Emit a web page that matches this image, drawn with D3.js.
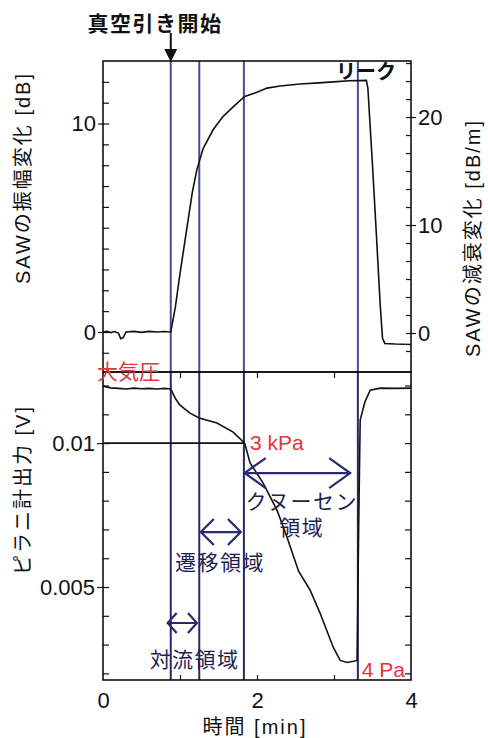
<!DOCTYPE html>
<html>
<head>
<meta charset="utf-8">
<title>SAW and Pirani gauge during pump-down</title>
<style>
  body { margin: 0; background: #fff; }
  text { font-family: "Liberation Sans", "Noto Sans CJK JP", sans-serif; fill: #111; }
  .frame { fill: none; stroke: #111; stroke-width: 1.6px; }
  .tick line { stroke: #111; stroke-width: 1.2px; }
  .tlabel text, .tlabel { font-size: 22px; }
  .title { font-size: 20px; letter-spacing: 2px; }
  .stage-top { stroke: #4a4a98; stroke-width: 2px; }
  .stage-bot { stroke: #28286a; stroke-width: 2px; }
  .curve { fill: none; stroke: #111; stroke-width: 1.6px; }
  .red { fill: #e3343c; }
  .region { font-size: 21px; letter-spacing: 1.5px; fill: #1f1f52; }
  .dbl { fill: none; stroke: #2a2a6e; stroke-width: 2.2px; }
</style>
</head>
<body>
<svg width="488" height="738"></svg>
<script src="https://d3js.org/d3.v7.min.js"></script>
<script>
// time axis [min]
const timeTicks = [0, 2, 4];
const timeMinor = [1, 2, 3];

// SAW amplitude change [dB], top panel
const sawTime = [0, 0.05, 0.1, 0.15, 0.2, 0.23, 0.26, 0.3, 0.4, 0.5, 0.6, 0.7, 0.8, 0.88,
  0.94, 1.0, 1.09, 1.16, 1.22, 1.3, 1.43, 1.55, 1.69, 1.84, 2.0, 2.13, 2.3, 2.56, 2.8, 2.99,
  3.2, 3.42, 3.44, 3.5, 3.55, 3.6, 3.63, 3.66, 3.8, 4.0];
const sawDb = [0, 0.03, -0.03, 0.02, -0.05, -0.32, -0.28, 0, 0.03, -0.02, 0.03, 0, 0.02, 0,
  1.2, 2.8, 5.0, 6.7, 7.8, 8.8, 9.7, 10.3, 10.8, 11.3, 11.5, 11.7, 11.8, 11.9, 11.95, 12.0,
  12.05, 12.07, 11.7, 8.0, 4.7, 1.3, -0.3, -0.55, -0.58, -0.6];

// Pirani gauge output [V], bottom panel
const piraniTime = [0, 0.1, 0.2, 0.3, 0.4, 0.5, 0.6, 0.7, 0.8, 0.88, 0.9, 0.94, 1.0, 1.13,
  1.25, 1.48, 1.69, 1.84, 1.91, 2.08, 2.26, 2.39, 2.54, 2.69, 2.82, 2.99, 3.08, 3.17, 3.27,
  3.30, 3.32, 3.34, 3.40, 3.47, 3.6, 3.8, 4.0];
const piraniV = [0.01198, 0.01192, 0.01190, 0.01188, 0.01191, 0.01189, 0.01190, 0.01188,
  0.01190, 0.01188, 0.01177, 0.01155, 0.01132, 0.01104, 0.01087, 0.0107, 0.01038, 0.0100,
  0.00931, 0.00861, 0.00767, 0.00673, 0.00555, 0.00489, 0.00409, 0.00291, 0.00245, 0.00238,
  0.00243, 0.00245, 0.0070, 0.0108, 0.01142, 0.01184, 0.01191, 0.01190, 0.01191];

// boundaries between flow regimes [min]
const stageTimes = [0.88, 1.25, 1.83, 3.31];

const L = 103, R = 411, T = 61, MID = 372, B = 680;
const svg = d3.select("svg");

const x = d3.scaleLinear().domain([0, 4]).range([L, R]);
const yTop = d3.scaleLinear().domain([-1.92, 13.0]).range([MID, T]);
const yRight = d3.scaleLinear().domain([-3.61, 25.19]).range([MID, T]);
const yBot = d3.scaleLinear().domain([0.00177, 0.01247]).range([B, MID]);

const noDomain = g => g.select(".domain").remove();

// stage lines
svg.selectAll(".stage-top").data(stageTimes).enter().append("line")
  .attr("class", "stage-top")
  .attr("x1", d => x(d)).attr("x2", d => x(d)).attr("y1", T).attr("y2", MID);
svg.selectAll(".stage-bot").data(stageTimes).enter().append("line")
  .attr("class", "stage-bot")
  .attr("x1", d => x(d)).attr("x2", d => x(d)).attr("y1", MID).attr("y2", B);

// 3 kPa reference line
svg.append("line").attr("stroke", "#111").attr("stroke-width", 1.6)
  .attr("x1", x(0)).attr("x2", x(stageTimes[2])).attr("y1", yBot(0.01)).attr("y2", yBot(0.01));

// curves
const sawLine = d3.line().x((d, i) => x(sawTime[i])).y(d => yTop(d));
svg.append("path").attr("class", "curve").attr("d", sawLine(sawDb));
const pirLine = d3.line().x((d, i) => x(piraniTime[i])).y(d => yBot(d));
svg.append("path").attr("class", "curve").attr("stroke-width", 1.3).attr("d", pirLine(piraniV));

// axes: left top
svg.append("g").attr("class", "tick").attr("transform", `translate(${L},0)`)
  .call(d3.axisRight(yTop).tickValues(d3.range(-1, 13)).tickSize(6).tickFormat(""))
  .call(noDomain);
svg.append("g").attr("class", "tick tlabel").attr("transform", `translate(${L},0)`)
  .call(d3.axisLeft(yTop).tickValues([0, 10]).tickSize(5).tickPadding(2))
  .call(noDomain);
// right top
svg.append("g").attr("class", "tick").attr("transform", `translate(${R},0)`)
  .call(d3.axisLeft(yRight).tickValues(d3.range(-10 / 6, 25.1, 10 / 6)).tickSize(5).tickFormat(""))
  .call(noDomain);
svg.append("g").attr("class", "tick tlabel").attr("transform", `translate(${R},0)`)
  .call(d3.axisRight(yRight).tickValues([0, 10, 20]).tickSize(5).tickPadding(2))
  .call(noDomain);
// left bottom
const vMinor = d3.range(0.002, 0.0125, 0.001);
svg.append("g").attr("class", "tick").attr("transform", `translate(${L},0)`)
  .call(d3.axisRight(yBot).tickValues(vMinor).tickSize(6).tickFormat(""))
  .call(noDomain);
svg.append("g").attr("class", "tick tlabel").attr("transform", `translate(${L},0)`)
  .call(d3.axisLeft(yBot).tickValues([0.005, 0.01]).tickSize(6).tickPadding(2).tickFormat(d3.format("~g")))
  .call(noDomain);
// right bottom
svg.append("g").attr("class", "tick").attr("transform", `translate(${R},0)`)
  .call(d3.axisLeft(yBot).tickValues(vMinor).tickSize(6).tickFormat(""))
  .call(noDomain);
// time ticks
svg.append("g").attr("class", "tick").attr("transform", `translate(0,${MID})`)
  .call(d3.axisBottom(x).tickValues(timeMinor).tickSize(6).tickFormat(""))
  .call(noDomain);
svg.append("g").attr("class", "tick").attr("transform", `translate(0,${B})`)
  .call(d3.axisTop(x).tickValues(timeMinor).tickSize(5).tickFormat(""))
  .call(noDomain);
svg.append("g").attr("class", "tick tlabel").attr("transform", `translate(0,${B})`)
  .call(d3.axisBottom(x).tickValues(timeTicks).tickSize(0).tickPadding(12).tickFormat(d3.format("d")))
  .call(noDomain);
svg.selectAll(".tlabel text").attr("fill", "#111").style("font-size", "22px");

// frames
svg.append("rect").attr("class", "frame").attr("x", L).attr("y", T).attr("width", R - L).attr("height", MID - T);
svg.append("rect").attr("class", "frame").attr("x", L).attr("y", MID).attr("width", R - L).attr("height", B - MID);

// axis titles
svg.append("text").attr("class", "title").attr("text-anchor", "middle")
  .attr("transform", "translate(30,178) rotate(-90)").text("SAWの振幅変化 [dB]");
svg.append("text").attr("class", "title").attr("text-anchor", "middle")
  .attr("transform", "translate(480,238) rotate(-90)").text("SAWの減衰変化 [dB/m]");
svg.append("text").attr("class", "title").attr("text-anchor", "middle")
  .attr("transform", "translate(30,490) rotate(-90)").text("ピラニ計出力 [V]");
svg.append("text").attr("class", "title").attr("text-anchor", "middle")
  .attr("x", (L + R) / 2 - 2).attr("y", 734).text("時間 [min]");

// pump start marker
const x0 = x(stageTimes[0]);
svg.append("text").attr("x", 155).attr("y", 31).attr("text-anchor", "middle")
  .style("font-size", "21px").style("letter-spacing", "1.5px").style("font-weight", "bold")
  .text("真空引き開始");
svg.append("line").attr("x1", x0).attr("x2", x0).attr("y1", 33).attr("y2", 50)
  .attr("stroke", "#111").attr("stroke-width", 2);
svg.append("path").attr("fill", "#111")
  .attr("d", `M${x0 - 6.5},49L${x0 + 6.5},49L${x0},62Z`);

// leak
svg.append("text").attr("x", 366).attr("y", 79).attr("text-anchor", "middle")
  .style("font-size", "20px").style("font-weight", "bold").text("リーク");

// red notes
svg.append("text").attr("class", "red").attr("x", 97).attr("y", MID).attr("dy", "0.35em")
  .style("font-size", "21px").text("大気圧");
svg.append("text").attr("class", "red").attr("x", x(1.91)).attr("y", yBot(0.00976))
  .style("font-size", "21px").text("3 kPa");
svg.append("text").attr("class", "red").attr("x", x(3.36)).attr("y", yBot(0.00187))
  .style("font-size", "21px").text("4 Pa");

// regime arrows
function dblArrow(t1, t2, v, len, half) {
  const a = x(t1), b = x(t2), y = yBot(v);
  svg.append("path").attr("class", "dbl").attr("d",
    `M${a},${y}L${b},${y}` +
    `M${a + len},${y - half}L${a},${y}L${a + len},${y + half}` +
    `M${b - len},${y - half}L${b},${y}L${b - len},${y + half}`);
}
dblArrow(stageTimes[2] + 0.01, 3.21, 0.00896, 21, 15);
dblArrow(1.27, 1.79, 0.00691, 13, 13);
dblArrow(0.84, 1.22, 0.00375, 9, 10);

svg.append("text").attr("class", "region").attr("text-anchor", "middle")
  .attr("x", x(2.58)).attr("y", yBot(0.00771)).text("クヌーセン");
svg.append("text").attr("class", "region").attr("text-anchor", "middle")
  .attr("x", x(2.58)).attr("y", yBot(0.0068)).text("領域");
svg.append("text").attr("class", "region").attr("text-anchor", "middle")
  .attr("x", x(1.52)).attr("y", yBot(0.00559)).text("遷移領域");
svg.append("text").attr("class", "region").attr("text-anchor", "middle")
  .attr("x", x(1.19)).attr("y", yBot(0.00222)).text("対流領域");
</script>
</body>
</html>
